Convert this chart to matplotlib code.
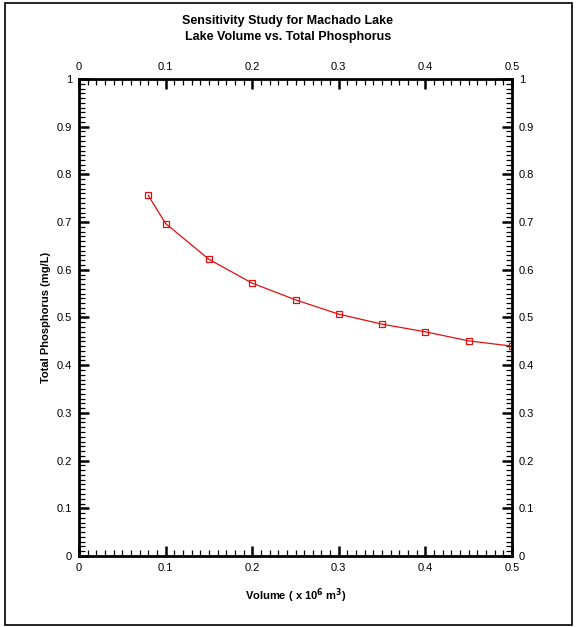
import matplotlib
matplotlib.use('Agg')
import matplotlib.pyplot as plt
from matplotlib.patches import Rectangle
from matplotlib.ticker import MultipleLocator

plt.rcParams['font.family'] = ['Liberation Sans', 'DejaVu Sans']

# lake volume (x 10^6 m^3) and total phosphorus (mg/L)
volume = [0.08, 0.10, 0.15, 0.20, 0.25, 0.30, 0.35, 0.40, 0.45, 0.50]
phosphorus = [0.756, 0.697, 0.622, 0.572, 0.537, 0.507, 0.486, 0.470, 0.451, 0.440]

fig = plt.figure(figsize=(5.76, 6.27), dpi=100)
# outer border around the whole picture
fig.patches.append(Rectangle((5 / 576, 2 / 627), 567 / 576, 622 / 627,
                             transform=fig.transFigure, fill=False,
                             edgecolor='black', linewidth=1.2))

ax = fig.add_axes([79 / 576, 71 / 627, 433 / 576, 477 / 627])
ax.plot(volume, phosphorus, '-', color='#e01010', linewidth=0.9,
        marker='s', markersize=4, markerfacecolor='none',
        markeredgecolor='#e01010', markeredgewidth=0.9)

ax.set_xlim(0, 0.5)
ax.set_ylim(0, 1)
ax.xaxis.set_major_locator(MultipleLocator(0.1))
ax.xaxis.set_minor_locator(MultipleLocator(0.01))
ax.yaxis.set_major_locator(MultipleLocator(0.1))
ax.yaxis.set_minor_locator(MultipleLocator(0.01))
ax.xaxis.set_major_formatter(plt.FuncFormatter(lambda v, p: '%g' % round(v, 2)))
ax.yaxis.set_major_formatter(plt.FuncFormatter(lambda v, p: '%g' % round(v, 2)))

ax.tick_params(which='both', direction='in', top=True, right=True,
               labeltop=True, labelright=True, labelsize=8, colors='black')
ax.tick_params(which='major', length=7, width=1.8, pad=5)
ax.tick_params(which='minor', length=4, width=0.9)
for s in ax.spines.values():
    s.set_linewidth(2)

ax.set_xlabel(r'Volume ( x 10$^{\mathbf{6}}$ m$^{\mathbf{3}}$)', fontsize=8,
              fontweight='bold', labelpad=10)
ax.set_ylabel('Total Phosphorus (mg/L)', fontsize=8, fontweight='bold', labelpad=4)

fig.text(0.5, 1 - 29 / 627, 'Sensitivity Study for Machado Lake\nLake Volume vs. Total Phosphorus',
         ha='center', va='center', fontsize=9, fontweight='bold', linespacing=1.4)

fig.savefig('out.png', dpi=100)
